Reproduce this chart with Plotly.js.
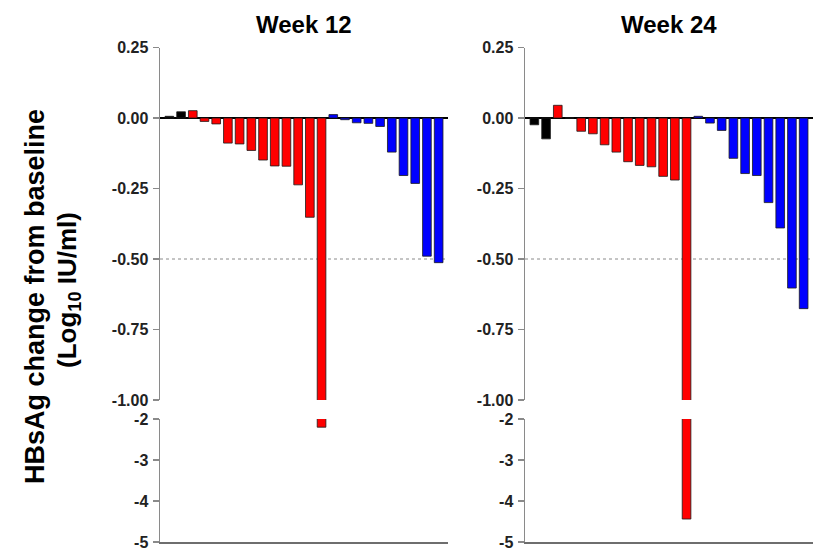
<!DOCTYPE html>
<html>
<head>
<meta charset="utf-8">
<script src="https://cdn.plot.ly/plotly-3.0.1.min.js"></script>
<style>html,body{margin:0;padding:0;background:#fff;}#chart{width:823px;height:550px;}</style>
</head>
<body>
<div id="chart"></div>
<script>
// ---- Data (HBsAg change from baseline, log10 IU/ml) ----
const week12Black = [0.006, 0.022];
const week12Red   = [0.026, -0.012, -0.021, -0.089, -0.092, -0.115, -0.149, -0.170, -0.171, -0.237, -0.352, -2.20];
const week12Blue  = [0.012, -0.006, -0.017, -0.019, -0.030, -0.121, -0.204, -0.232, -0.490, -0.513];

const week24Black = [-0.024, -0.074];
const week24Red   = [0.045, 0.0, -0.047, -0.056, -0.095, -0.121, -0.155, -0.168, -0.173, -0.207, -0.220, -4.44];
const week24Blue  = [0.006, -0.018, -0.044, -0.143, -0.197, -0.204, -0.300, -0.390, -0.603, -0.676];

const panelTitles = ["Week 12", "Week 24"];
const topTickVals = [0.25, 0, -0.25, -0.5, -0.75, -1];
const topTickText = ["0.25", "0.00", "-0.25", "-0.50", "-0.75", "-1.00"];
const botTickVals = [-2, -3, -4, -5];
const botTickText = ["-2", "-3", "-4", "-5"];
const yTitleLine1 = "HBsAg change from baseline";
const yTitleLine2 = "(Log<sub>10</sub> IU/ml)";

// ---- Build traces ----
const colors = {black: "#000000", red: "#ff0000", blue: "#0000ff"};
function positions(start, n) { const a = []; for (let i = 0; i < n; i++) a.push(start + i); return a; }

function panelTraces(black, red, blue, xa, yTop, yBot) {
  const groups = [
    {vals: black, color: colors.black},
    {vals: red, color: colors.red},
    {vals: blue, color: colors.blue}
  ];
  const out = [];
  let start = 1;
  groups.forEach(g => {
    const xs = positions(start, g.vals.length);
    start += g.vals.length;
    [yTop, yBot].forEach(ya => {
      out.push({
        type: "bar", x: xs, y: g.vals, xaxis: xa, yaxis: ya, width: 0.74,
        marker: {color: g.color, line: {color: "#1a1a1a", width: 0.8}},
        showlegend: false, hoverinfo: "skip"
      });
    });
  });
  return out;
}

const data = [].concat(
  panelTraces(week12Black, week12Red, week12Blue, "x", "y", "y2"),
  panelTraces(week24Black, week24Red, week24Blue, "x2", "y3", "y4")
);

// ---- Layout ----
const W = 823, H = 550;
const tickFont = {family: "Liberation Sans, Arial, sans-serif", size: 16, color: "#222", weight: "bold"};
const axisGray = "#8a8a8a";

const topDomain = [1 - 400 / H, 1 - 47.5 / H];
const botDomain = [1 - 542 / H, 1 - 419 / H];
const p1 = [160 / W, 448 / W];
const p2 = [525 / W, 813 / W];
const xr = [0.2, 24.8];

function xAxis(domain, anchor) {
  return {domain: domain, anchor: anchor, range: xr, showline: true, linecolor: "#6e6e6e", linewidth: 1.5,
          showticklabels: false, ticks: "", showgrid: false, zeroline: false, fixedrange: true};
}
function yAxis(domain, anchor, range, tv, tt, zero) {
  return {domain: domain, anchor: anchor, range: range, tickmode: "array", tickvals: tv, ticktext: tt,
          showline: true, linecolor: axisGray, linewidth: 1.5, ticks: "outside", ticklen: 6, tickwidth: 1.5,
          tickcolor: axisGray, tickfont: tickFont, showgrid: false, ticklabeloverflow: "allow",
          zeroline: zero, zerolinecolor: "#000", zerolinewidth: 1.6, fixedrange: true, ticklabelstandoff: 1};
}

const layout = {
  width: W, height: H,
  margin: {l: 0, r: 0, t: 0, b: 0},
  paper_bgcolor: "#fff", plot_bgcolor: "rgba(0,0,0,0)",
  barmode: "overlay",
  xaxis: xAxis(p1, "y2"),
  xaxis2: xAxis(p2, "y4"),
  yaxis: yAxis(topDomain, "x", [-1, 0.25], topTickVals, topTickText, true),
  yaxis2: yAxis(botDomain, "x", [-5, -2], botTickVals, botTickText, false),
  yaxis3: yAxis(topDomain, "x2", [-1, 0.25], topTickVals, topTickText, true),
  yaxis4: yAxis(botDomain, "x2", [-5, -2], botTickVals, botTickText, false),
  shapes: [
    {type: "line", xref: "x domain", yref: "y", x0: 0, x1: 1, y0: -0.5, y1: -0.5,
     line: {color: "#8a8a8a", width: 1, dash: "dot"}, layer: "below"},
    {type: "line", xref: "x2 domain", yref: "y3", x0: 0, x1: 1, y0: -0.5, y1: -0.5,
     line: {color: "#8a8a8a", width: 1, dash: "dot"}, layer: "below"}
  ],
  annotations: [
    {text: panelTitles[0], xref: "paper", yref: "paper", x: 304 / W, y: 1 - 24 / H, xanchor: "center", yanchor: "middle",
     showarrow: false, font: {family: "Liberation Sans, Arial, sans-serif", size: 24, weight: "bold", color: "#000"}},
    {text: panelTitles[1], xref: "paper", yref: "paper", x: 669 / W, y: 1 - 24 / H, xanchor: "center", yanchor: "middle",
     showarrow: false, font: {family: "Liberation Sans, Arial, sans-serif", size: 24, weight: "bold", color: "#000"}},
    {text: yTitleLine1, xref: "paper", yref: "paper", x: 35 / W, y: 1 - 297 / H, xanchor: "center", yanchor: "middle",
     textangle: -90, showarrow: false, font: {family: "Liberation Sans, Arial, sans-serif", size: 27, weight: "bold", color: "#000"}},
    {text: yTitleLine2, xref: "paper", yref: "paper", x: 68 / W, y: 1 - 290 / H, xanchor: "center", yanchor: "middle",
     textangle: -90, showarrow: false, font: {family: "Liberation Sans, Arial, sans-serif", size: 26, weight: "bold", color: "#000"}}
  ]
};

Plotly.newPlot("chart", data, layout, {displayModeBar: false, staticPlot: true});
</script>
</body>
</html>
